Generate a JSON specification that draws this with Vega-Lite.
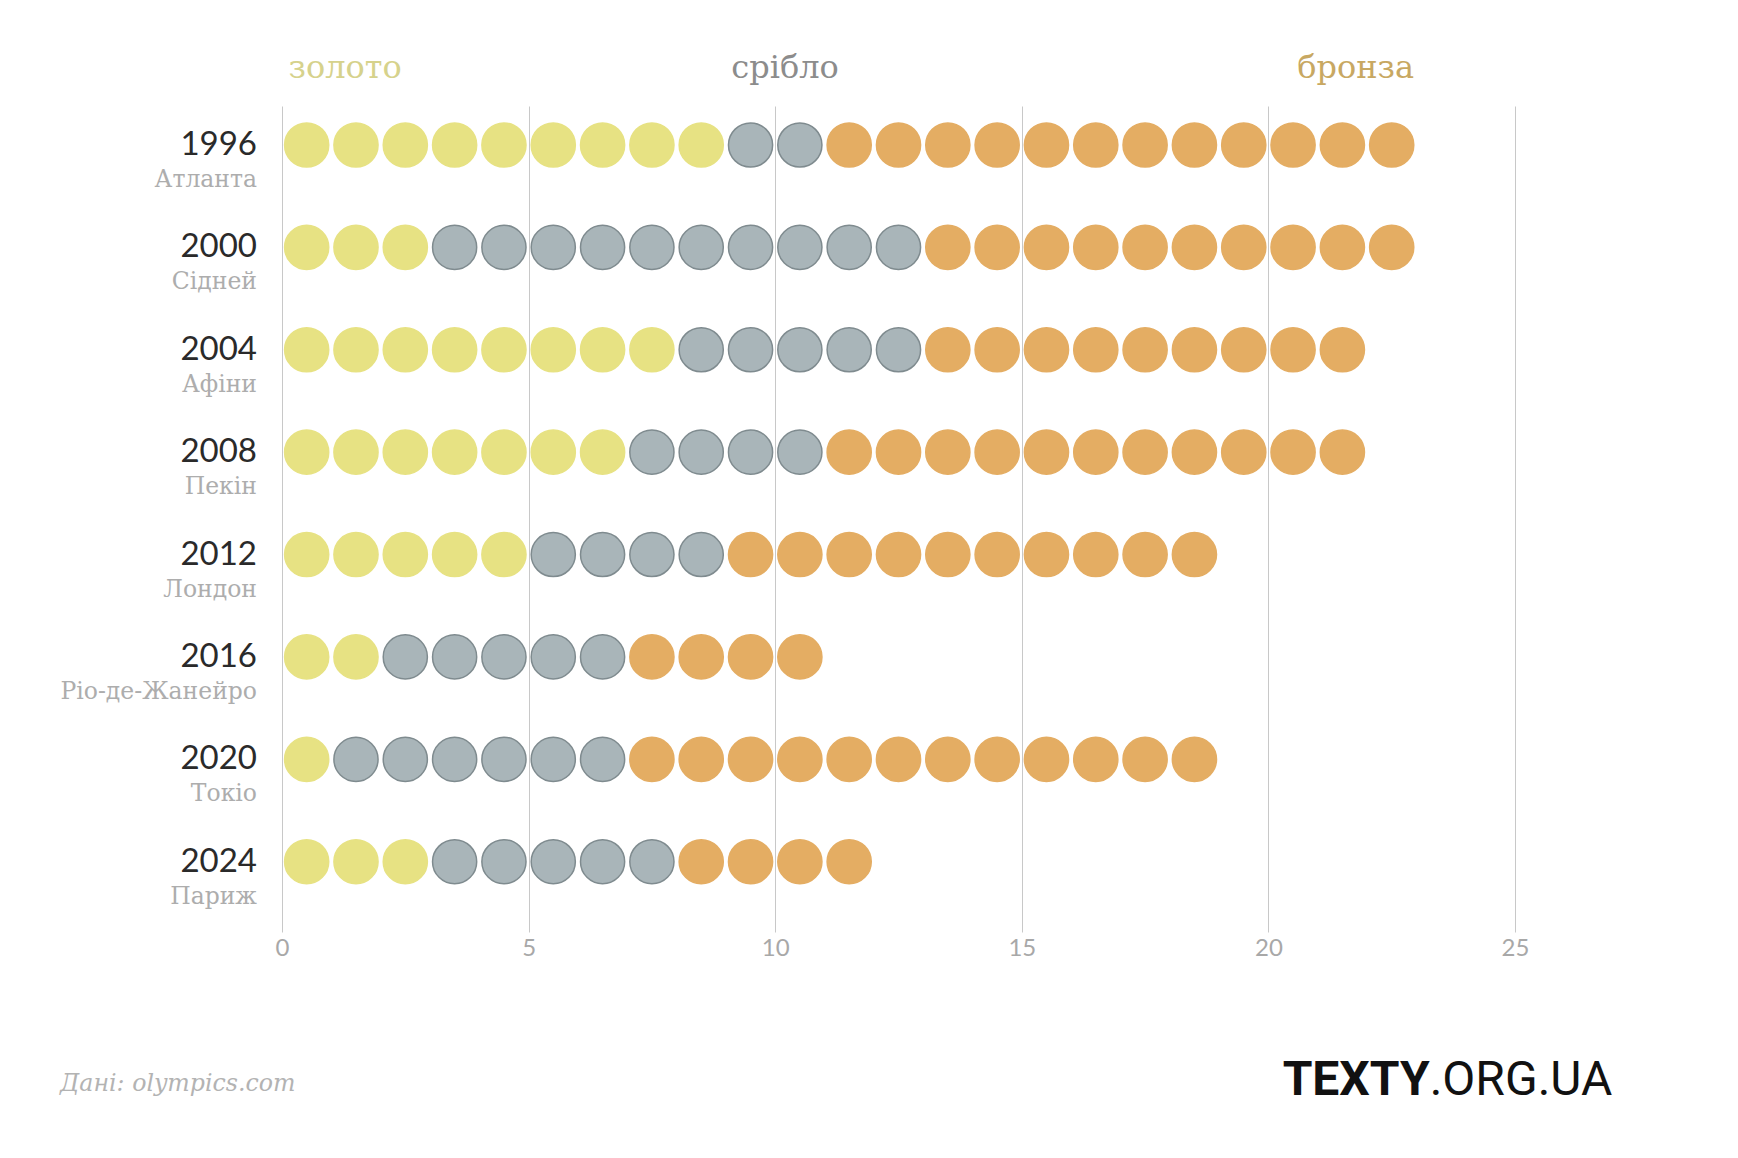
{
  "$schema": "https://vega.github.io/schema/vega-lite/v6.json",
  "autosize": {"type": "none"},
  "width": 1233,
  "height": 826,
  "padding": {"left": 282, "top": 106, "right": 223, "bottom": 226},
  "background": "white",
  "config": {"view": {"stroke": null}},
  "datasets": {
    "medals": [
      {"year":1996,"medal":"золото","pos":0.5},{"year":1996,"medal":"золото","pos":1.5},{"year":1996,"medal":"золото","pos":2.5},{"year":1996,"medal":"золото","pos":3.5},{"year":1996,"medal":"золото","pos":4.5},{"year":1996,"medal":"золото","pos":5.5},{"year":1996,"medal":"золото","pos":6.5},{"year":1996,"medal":"золото","pos":7.5},{"year":1996,"medal":"золото","pos":8.5},
      {"year":1996,"medal":"срібло","pos":9.5},{"year":1996,"medal":"срібло","pos":10.5},
      {"year":1996,"medal":"бронза","pos":11.5},{"year":1996,"medal":"бронза","pos":12.5},{"year":1996,"medal":"бронза","pos":13.5},{"year":1996,"medal":"бронза","pos":14.5},{"year":1996,"medal":"бронза","pos":15.5},{"year":1996,"medal":"бронза","pos":16.5},{"year":1996,"medal":"бронза","pos":17.5},{"year":1996,"medal":"бронза","pos":18.5},{"year":1996,"medal":"бронза","pos":19.5},{"year":1996,"medal":"бронза","pos":20.5},{"year":1996,"medal":"бронза","pos":21.5},{"year":1996,"medal":"бронза","pos":22.5},

      {"year":2000,"medal":"золото","pos":0.5},{"year":2000,"medal":"золото","pos":1.5},{"year":2000,"medal":"золото","pos":2.5},
      {"year":2000,"medal":"срібло","pos":3.5},{"year":2000,"medal":"срібло","pos":4.5},{"year":2000,"medal":"срібло","pos":5.5},{"year":2000,"medal":"срібло","pos":6.5},{"year":2000,"medal":"срібло","pos":7.5},{"year":2000,"medal":"срібло","pos":8.5},{"year":2000,"medal":"срібло","pos":9.5},{"year":2000,"medal":"срібло","pos":10.5},{"year":2000,"medal":"срібло","pos":11.5},{"year":2000,"medal":"срібло","pos":12.5},
      {"year":2000,"medal":"бронза","pos":13.5},{"year":2000,"medal":"бронза","pos":14.5},{"year":2000,"medal":"бронза","pos":15.5},{"year":2000,"medal":"бронза","pos":16.5},{"year":2000,"medal":"бронза","pos":17.5},{"year":2000,"medal":"бронза","pos":18.5},{"year":2000,"medal":"бронза","pos":19.5},{"year":2000,"medal":"бронза","pos":20.5},{"year":2000,"medal":"бронза","pos":21.5},{"year":2000,"medal":"бронза","pos":22.5},

      {"year":2004,"medal":"золото","pos":0.5},{"year":2004,"medal":"золото","pos":1.5},{"year":2004,"medal":"золото","pos":2.5},{"year":2004,"medal":"золото","pos":3.5},{"year":2004,"medal":"золото","pos":4.5},{"year":2004,"medal":"золото","pos":5.5},{"year":2004,"medal":"золото","pos":6.5},{"year":2004,"medal":"золото","pos":7.5},
      {"year":2004,"medal":"срібло","pos":8.5},{"year":2004,"medal":"срібло","pos":9.5},{"year":2004,"medal":"срібло","pos":10.5},{"year":2004,"medal":"срібло","pos":11.5},{"year":2004,"medal":"срібло","pos":12.5},
      {"year":2004,"medal":"бронза","pos":13.5},{"year":2004,"medal":"бронза","pos":14.5},{"year":2004,"medal":"бронза","pos":15.5},{"year":2004,"medal":"бронза","pos":16.5},{"year":2004,"medal":"бронза","pos":17.5},{"year":2004,"medal":"бронза","pos":18.5},{"year":2004,"medal":"бронза","pos":19.5},{"year":2004,"medal":"бронза","pos":20.5},{"year":2004,"medal":"бронза","pos":21.5},

      {"year":2008,"medal":"золото","pos":0.5},{"year":2008,"medal":"золото","pos":1.5},{"year":2008,"medal":"золото","pos":2.5},{"year":2008,"medal":"золото","pos":3.5},{"year":2008,"medal":"золото","pos":4.5},{"year":2008,"medal":"золото","pos":5.5},{"year":2008,"medal":"золото","pos":6.5},
      {"year":2008,"medal":"срібло","pos":7.5},{"year":2008,"medal":"срібло","pos":8.5},{"year":2008,"medal":"срібло","pos":9.5},{"year":2008,"medal":"срібло","pos":10.5},
      {"year":2008,"medal":"бронза","pos":11.5},{"year":2008,"medal":"бронза","pos":12.5},{"year":2008,"medal":"бронза","pos":13.5},{"year":2008,"medal":"бронза","pos":14.5},{"year":2008,"medal":"бронза","pos":15.5},{"year":2008,"medal":"бронза","pos":16.5},{"year":2008,"medal":"бронза","pos":17.5},{"year":2008,"medal":"бронза","pos":18.5},{"year":2008,"medal":"бронза","pos":19.5},{"year":2008,"medal":"бронза","pos":20.5},{"year":2008,"medal":"бронза","pos":21.5},

      {"year":2012,"medal":"золото","pos":0.5},{"year":2012,"medal":"золото","pos":1.5},{"year":2012,"medal":"золото","pos":2.5},{"year":2012,"medal":"золото","pos":3.5},{"year":2012,"medal":"золото","pos":4.5},
      {"year":2012,"medal":"срібло","pos":5.5},{"year":2012,"medal":"срібло","pos":6.5},{"year":2012,"medal":"срібло","pos":7.5},{"year":2012,"medal":"срібло","pos":8.5},
      {"year":2012,"medal":"бронза","pos":9.5},{"year":2012,"medal":"бронза","pos":10.5},{"year":2012,"medal":"бронза","pos":11.5},{"year":2012,"medal":"бронза","pos":12.5},{"year":2012,"medal":"бронза","pos":13.5},{"year":2012,"medal":"бронза","pos":14.5},{"year":2012,"medal":"бронза","pos":15.5},{"year":2012,"medal":"бронза","pos":16.5},{"year":2012,"medal":"бронза","pos":17.5},{"year":2012,"medal":"бронза","pos":18.5},

      {"year":2016,"medal":"золото","pos":0.5},{"year":2016,"medal":"золото","pos":1.5},
      {"year":2016,"medal":"срібло","pos":2.5},{"year":2016,"medal":"срібло","pos":3.5},{"year":2016,"medal":"срібло","pos":4.5},{"year":2016,"medal":"срібло","pos":5.5},{"year":2016,"medal":"срібло","pos":6.5},
      {"year":2016,"medal":"бронза","pos":7.5},{"year":2016,"medal":"бронза","pos":8.5},{"year":2016,"medal":"бронза","pos":9.5},{"year":2016,"medal":"бронза","pos":10.5},

      {"year":2020,"medal":"золото","pos":0.5},
      {"year":2020,"medal":"срібло","pos":1.5},{"year":2020,"medal":"срібло","pos":2.5},{"year":2020,"medal":"срібло","pos":3.5},{"year":2020,"medal":"срібло","pos":4.5},{"year":2020,"medal":"срібло","pos":5.5},{"year":2020,"medal":"срібло","pos":6.5},
      {"year":2020,"medal":"бронза","pos":7.5},{"year":2020,"medal":"бронза","pos":8.5},{"year":2020,"medal":"бронза","pos":9.5},{"year":2020,"medal":"бронза","pos":10.5},{"year":2020,"medal":"бронза","pos":11.5},{"year":2020,"medal":"бронза","pos":12.5},{"year":2020,"medal":"бронза","pos":13.5},{"year":2020,"medal":"бронза","pos":14.5},{"year":2020,"medal":"бронза","pos":15.5},{"year":2020,"medal":"бронза","pos":16.5},{"year":2020,"medal":"бронза","pos":17.5},{"year":2020,"medal":"бронза","pos":18.5},

      {"year":2024,"medal":"золото","pos":0.5},{"year":2024,"medal":"золото","pos":1.5},{"year":2024,"medal":"золото","pos":2.5},
      {"year":2024,"medal":"срібло","pos":3.5},{"year":2024,"medal":"срібло","pos":4.5},{"year":2024,"medal":"срібло","pos":5.5},{"year":2024,"medal":"срібло","pos":6.5},{"year":2024,"medal":"срібло","pos":7.5},
      {"year":2024,"medal":"бронза","pos":8.5},{"year":2024,"medal":"бронза","pos":9.5},{"year":2024,"medal":"бронза","pos":10.5},{"year":2024,"medal":"бронза","pos":11.5}
    ],
    "games": [
      {"year":1996,"city":"Атланта","pos":0},
      {"year":2000,"city":"Сідней","pos":0},
      {"year":2004,"city":"Афіни","pos":0},
      {"year":2008,"city":"Пекін","pos":0},
      {"year":2012,"city":"Лондон","pos":0},
      {"year":2016,"city":"Ріо-де-Жанейро","pos":0},
      {"year":2020,"city":"Токіо","pos":0},
      {"year":2024,"city":"Париж","pos":0}
    ],
    "headers": [
      {"label":"золото","pos":1.28,"year":1993},
      {"label":"срібло","pos":10.2,"year":1993},
      {"label":"бронза","pos":21.77,"year":1993}
    ]
  },
  "encoding": {
    "x": {
      "field": "pos", "type": "quantitative",
      "scale": {"domain": [0, 25], "nice": false, "zero": false},
      "axis": {
        "values": [0, 5, 10, 15, 20, 25], "title": null, "grid": true, "labelFlush": false,
        "gridColor": "#c8c8c8", "gridWidth": 1, "domain": false, "ticks": false,
        "labelFont": "Lato", "labelFontSize": 24, "labelColor": "#a8a8a8", "labelPadding": 4
      }
    },
    "y": {
      "field": "year", "type": "quantitative",
      "scale": {"domain": [1994.477, 2026.746], "nice": false, "zero": false, "reverse": true},
      "axis": null
    }
  },
  "layer": [
    {
      "data": {"name": "medals"},
      "mark": {"type": "circle", "size": 1950, "opacity": 1, "strokeWidth": 1.5, "clip": false},
      "encoding": {
        "color": {
          "field": "medal", "type": "nominal", "legend": null,
          "scale": {"domain": ["золото", "срібло", "бронза"], "range": ["#e7e283", "#a9b5b9", "#e4ad63"]}
        },
        "stroke": {
          "field": "medal", "type": "nominal", "legend": null,
          "scale": {"domain": ["золото", "срібло", "бронза"], "range": ["#e7e283", "#7f8b8f", "#e4ad63"]}
        }
      }
    },
    {
      "data": {"name": "games"},
      "mark": {"type": "text", "align": "right", "baseline": "middle", "dx": -25, "dy": 0, "font": "Lato", "fontSize": 33, "color": "#2a2a2a"},
      "encoding": {
        "text": {"field": "year", "type": "nominal"}
      }
    },
    {
      "data": {"name": "games"},
      "mark": {"type": "text", "align": "right", "baseline": "middle", "dx": -25, "dy": 35, "font": "DejaVu Serif", "fontSize": 23.5, "color": "#adadad"},
      "encoding": {
        "text": {"field": "city", "type": "nominal"}
      }
    },
    {
      "data": {"name": "headers"},
      "mark": {"type": "text", "align": "center", "baseline": "middle", "font": "DejaVu Serif", "fontSize": 32},
      "encoding": {
        "text": {"field": "label", "type": "nominal"},
        "color": {
          "field": "label", "type": "nominal", "legend": null,
          "scale": {"domain": ["золото", "срібло", "бронза"], "range": ["#d6d28c", "#8c8c8c", "#c8a862"]}
        }
      }
    },
    {
      "data": {"values": [{"source": "Дані: olympics.com", "pos": -4.5, "year": 2032.7}]},
      "mark": {"type": "text", "align": "left", "baseline": "middle", "font": "DejaVu Serif", "fontStyle": "italic", "fontSize": 23.7, "color": "#b3b3b3"},
      "encoding": {"text": {"field": "source", "type": "nominal"}}
    },
    {
      "data": {"values": [{"brand": "TEXTY", "pos": 23.27, "year": 2032.56}]},
      "mark": {"type": "text", "align": "right", "baseline": "middle", "font": "Roboto", "fontWeight": "bold", "fontSize": 48, "color": "#111111"},
      "encoding": {"text": {"field": "brand", "type": "nominal"}}
    },
    {
      "data": {"values": [{"brand": ".ORG.UA", "pos": 23.27, "year": 2032.56}]},
      "mark": {"type": "text", "align": "left", "baseline": "middle", "font": "Roboto", "fontWeight": "normal", "fontSize": 48, "color": "#111111"},
      "encoding": {"text": {"field": "brand", "type": "nominal"}}
    }
  ],
  "resolve": {"scale": {"color": "independent"}}
}
